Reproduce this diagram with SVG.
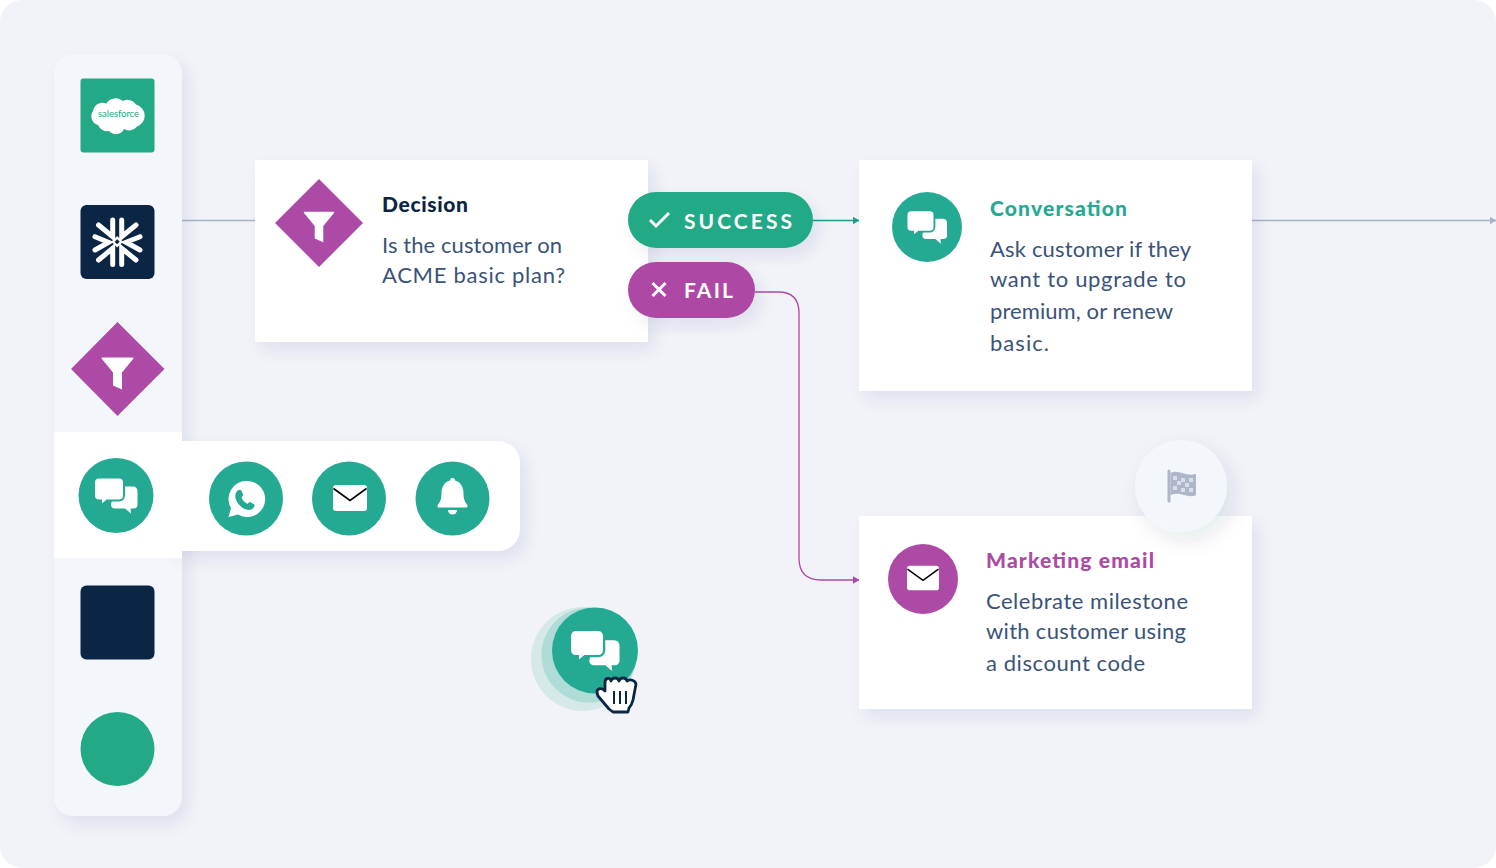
<svg xmlns="http://www.w3.org/2000/svg" width="1496" height="868" viewBox="0 0 1496 868">
<style>
text{font-family:"Lato","Open Sans","Liberation Sans",sans-serif}
.t{font-size:21px;font-weight:900}
.b{font-size:22px;fill:#3a5379}
.p{font-size:21px;font-weight:700;fill:#fff}
.teal{fill:#24a993;color:#24a993}.green{fill:#23a985}.pur{fill:#ad4aa5;color:#ad4aa5}.navy{fill:#0b2545}.w{fill:#fff}
.card{fill:#fff;filter:url(#sh)}
.ln{fill:none;stroke-width:1.3}
.sf{fill:none;stroke:#fff;stroke-width:5;stroke-linecap:round;stroke-linejoin:miter}
</style>
<defs>
<filter id="sh" x="-20%" y="-20%" width="140%" height="150%"><feDropShadow dx="6" dy="8" stdDeviation="8" flood-color="#1a2a55" flood-opacity=".08"/></filter>
<filter id="sh2" x="-30%" y="-30%" width="170%" height="170%"><feDropShadow dx="6" dy="8" stdDeviation="10" flood-color="#1a2a55" flood-opacity=".1"/></filter>
<marker id="aT" markerWidth="7" markerHeight="8" refX="6.500" refY="4" orient="auto" markerUnits="userSpaceOnUse"><path d="M0 0L7 4L0 8z" fill="#1f9d87"/></marker>
<marker id="aP" markerWidth="7" markerHeight="8" refX="6.500" refY="4" orient="auto" markerUnits="userSpaceOnUse"><path d="M0 0L7 4L0 8z" fill="#ad4aa5"/></marker>
<marker id="aG" markerWidth="7" markerHeight="8" refX="6.500" refY="4" orient="auto" markerUnits="userSpaceOnUse"><path d="M0 0L7 4L0 8z" fill="#a9b2c8"/></marker>
<g id="chat">
<path class="w" d="M-1-9H17a4.500 4.500 0 0 1 4.500 4.500V9a4 4 0 0 1-4 4H14.500L15 18 9 13H-1a4 4 0 0 1-4-4z"/>
<path class="w" stroke="#24a993" stroke-width="2" d="M-17-18H3a5 5 0 0 1 5 5V0a5 5 0 0 1-5 5H-9L-15 10V5H-17a5 5 0 0 1-5-5V-13a5 5 0 0 1 5-5z"/>
</g>
<g id="mail"><rect x="-17" y="-13" width="34" height="26" rx="3" class="w"/><path d="M-16.500-9.500L0 2.500 16.500-9.500" fill="none" stroke="currentColor" stroke-width="1.600"/></g>
<path id="funnel" class="w" d="M-15-16H15.500a.8.8 0 0 1 .5 1L4.500-1V16L-4.500 12V-1L-16-15a.8.8 0 0 1 1-1z"/>
</defs>
<rect width="1496" height="868" fill="#fff"/>
<rect id="canvas" width="1496" height="868" rx="22" fill="#f1f3f9"/>

<g id="connectors">
<path class="ln" stroke="#a9b2c8" d="M182 220.500H255"/>
<path class="ln" stroke="#a9b2c8" marker-end="url(#aG)" d="M1252 220.500H1496"/>
<path class="ln" stroke="#1f9d87" marker-end="url(#aT)" d="M813 220.500H859"/>
<path class="ln" stroke="#ad4aa5" marker-end="url(#aP)" d="M755 292H778Q799 292 799 313V558Q799 580 821 580H859"/>
</g>

<g id="panel"><rect x="54" y="54" width="128" height="762" rx="20" fill="#f3f7fc" filter="url(#sh)"/></g>
<g id="node-salesforce"><rect x="80.500" y="78.500" width="74" height="74" rx="3" class="green"/>
<path class="w" d="M106 104a11 11 0 0 1 17-3a10 10 0 0 1 13 3.500a11.500 11.500 0 0 1 1 22a10 10 0 0 1-13 2.500a9 9 0 0 1-15 2a10 10 0 0 1-11-6a9 9 0 0 1-5-14a9.500 9.500 0 0 1 13-7.500z"/>
<text x="118.500" y="117" text-anchor="middle" font-size="9.500" fill="#23a985" textLength="41">salesforce</text></g>
<g id="node-snowflake"><rect x="80.500" y="205" width="74" height="74" rx="6" class="navy"/>
<path class="sf" d="M98.500 225L112.700 236.700V220M136 225L121.700 236.700V220M95 236.700L108.500 242.300 95 250M140 236.700L126 242.300 140 250M98.500 260L112.700 248.300V264.500M136 260L121.700 248.300V264.500"/>
<path class="w" d="M117.200 236l5.800 5.800-5.800 5.800-5.800-5.800z"/><path d="M117.200 239.300l2.500 2.500-2.500 2.500-2.500-2.500z" class="navy"/></g>
<g id="node-filter"><path class="pur" d="M117.500 322L164.500 369L117.500 416L71 369z"/><use href="#funnel" transform="translate(117.500 373.500)"/></g>

<g id="node-tray"><path fill="#fff" filter="url(#sh)" d="M170 441H498a22 22 0 0 1 22 22V529a22 22 0 0 1-22 22H170z"/>
<rect x="54" y="432" width="128" height="126" fill="#fff"/></g>
<g id="node-conversation-tool"><circle cx="116" cy="495.500" r="37.500" class="teal"/><use href="#chat" transform="translate(116 495.500)"/></g>
<g id="node-whatsapp"><circle cx="246" cy="498.500" r="37" class="teal"/>
<path class="w" d="M247 481a18 18 0 1 1-9 33.500L228.500 517l2.500-9a18 18 0 0 1 16-27z"/>
<path class="teal" transform="translate(246.500 499.500) scale(.84) translate(-250 -499)" d="M240 488c2-1 3-1 4 1l2 4c0 2-2 3-2 4 1 3 4 6 7 7 1 0 2-2 3-2l4 2c2 1 2 2 1 4-2 3-5 4-9 3-6-2-11-7-13-13-1-4 0-8 3-10z"/></g>
<g id="node-mail"><circle cx="349" cy="498.500" r="37" class="teal"/><use href="#mail" transform="translate(350 498)"/></g>
<g id="node-bell"><circle cx="452.500" cy="498.500" r="37" class="teal"/>
<path class="w" d="M452.500 478a2.500 2.500 0 0 1 2.500 2.500c6 1.500 8.500 7 8.500 13 0 5 1 8 3.500 11l.5 1a1.500 1.500 0 0 1-1 2h-28a1.500 1.500 0 0 1-1-2l.5-1c2.500-3 3.500-6 3.500-11 0-6 2.500-11.500 8.500-13a2.500 2.500 0 0 1 2.500-2.500z"/><path class="w" d="M448 510h9a4.500 4.500 0 0 1-9 0z"/></g>
<g id="node-dark-square"><rect x="80.500" y="585.500" width="74" height="74" rx="6" class="navy"/></g>
<g id="node-green-circle"><circle cx="117.500" cy="749" r="37" class="green"/></g>

<g id="node-decision"><rect x="255" y="160" width="393" height="182" class="card"/>
<path class="pur" d="M319 179L363 223L319 267L275 223z"/><use href="#funnel" transform="translate(319 227) scale(.95)"/>
<text x="382" y="212" class="t" fill="#0b2545" textLength="86">Decision</text>
<text x="382" y="253" class="b" textLength="180">Is the customer on</text>
<text x="382" y="283" class="b" textLength="183">ACME basic plan?</text></g>

<g id="node-success"><rect x="628" y="192" width="185" height="56" rx="28" class="green" filter="url(#sh)"/>
<path d="M650 220l6 6 13-13" fill="none" stroke="#fff" stroke-width="3"/>
<text x="684" y="228.500" class="p" textLength="108">SUCCESS</text></g>
<g id="node-fail"><rect x="628" y="262" width="127" height="56" rx="28" class="pur" filter="url(#sh)"/>
<path d="M652.500 283l13 13m0-13l-13 13" fill="none" stroke="#fff" stroke-width="3"/>
<text x="684" y="298" class="p" textLength="49">FAIL</text></g>

<g id="node-conversation"><rect x="859" y="160" width="393" height="231" class="card"/>
<circle cx="927" cy="227" r="35" class="teal"/><use href="#chat" transform="translate(927 227) scale(.93)"/>
<text x="990" y="216" class="t" fill="#24a993" textLength="137">Conversation</text>
<text x="990" y="257" class="b" textLength="201">Ask customer if they</text>
<text x="990" y="287" class="b" textLength="196">want to upgrade to</text>
<text x="990" y="319" class="b" textLength="183">premium, or renew</text>
<text x="990" y="351" class="b" textLength="59">basic.</text></g>

<g id="node-marketing"><rect x="859" y="516" width="393" height="193" class="card"/>
<circle cx="923" cy="579" r="35" class="pur"/><use href="#mail" transform="translate(923 578) scale(.94)"/>
<text x="986" y="568" class="t" fill="#ad4aa5" textLength="168">Marketing email</text>
<text x="986" y="609" class="b" textLength="202">Celebrate milestone</text>
<text x="986" y="639" class="b" textLength="200">with customer using</text>
<text x="986" y="671" class="b" textLength="159">a discount code</text></g>

<g id="node-flag"><circle cx="1181" cy="486" r="46" fill="#f3f6fb" filter="url(#sh2)"/>
<path fill="#aeb6c9" d="M1167.500 471a1.500 1.500 0 0 1 3 0v30a1.500 1.500 0 0 1-3 0z"/>
<path fill="#aeb6c9" d="M1170.500 473c8-4 16 4 24.500 1 1 0 1 0 1 1v20c-8 4-16-4-25.500 0z"/>
<g fill="#d9deea"><rect x="1173" y="476" width="4" height="4"/><rect x="1181" y="478" width="4" height="4"/><rect x="1189" y="478" width="4" height="4"/><rect x="1177" y="481" width="4" height="4"/><rect x="1185" y="483" width="4" height="4"/><rect x="1173" y="486" width="4" height="4"/><rect x="1181" y="488" width="4" height="4"/><rect x="1189" y="488" width="4" height="4"/></g></g>

<g id="node-drag"><circle cx="583" cy="659" r="52" fill="#d4e9e8"/><circle cx="589" cy="655" r="47.500" fill="#afdcd6"/><circle cx="595" cy="650.500" r="43" class="teal"/><use href="#chat" transform="translate(595 650.500) scale(1.14)"/>
<path fill="#fff" stroke="#0b2545" stroke-width="2.800" stroke-linejoin="round" d="M597 691c1-3 5-3 7-1l1 1v-9c0-4 5-5 6-1c1-4 7-4 8 0c1-4 7-4 8 0c3-2 8-1 9 3l-3 16c-1 4-2 6-4 8l-1 4h-15l-4-3-11-13c-1-2-1-3-1-5z"/>
<path fill="none" stroke="#0b2545" stroke-width="2" d="M614 691v13M620 691v13M626 691v13"/></g>
</svg>
